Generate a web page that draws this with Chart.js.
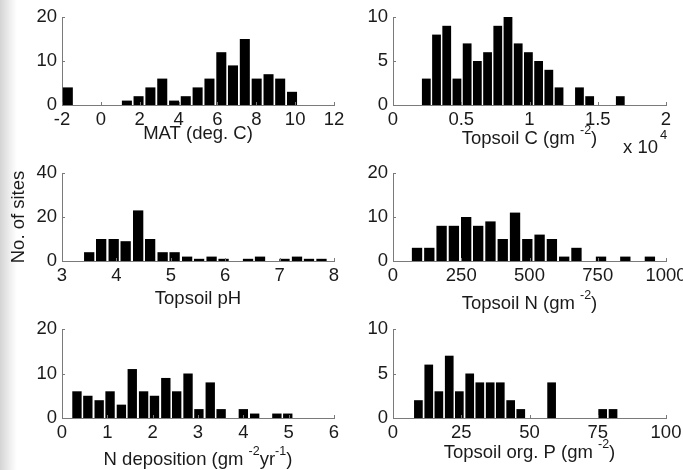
<!DOCTYPE html>
<html>
<head>
<meta charset="utf-8">
<script src="https://cdn.jsdelivr.net/npm/chart.js@4/dist/chart.umd.min.js"></script>
<style>
html,body{margin:0;padding:0;width:683px;height:470px;overflow:hidden;}
body{position:relative;background:linear-gradient(to right,#d4d4d4 0px,#e4e4e4 6px,#f4f4f4 12px,#ffffff 17px);}
canvas{position:absolute;}
</style>
</head>
<body>
<canvas id="cMAT"></canvas>
<canvas id="cC"></canvas>
<canvas id="cPH"></canvas>
<canvas id="cN"></canvas>
<canvas id="cNDEP"></canvas>
<canvas id="cP"></canvas>
<script>
// ---- data (bin centres and counts) ----
const matBins   = [-1.70,-1.09,-0.49,0.12,0.73,1.34,1.94,2.55,3.16,3.77,4.37,4.98,5.59,6.20,6.80,7.41,8.02,8.63,9.23,9.84];
const matCounts = [4,0,0,0,0,1,2,4,6,1,2,4,6,12,9,15,6,7,6,3];

const cBins   = [2440,3188,3936,4684,5432,6180,6928,7676,8424,9172,9920,10668,11416,12164,12912,13660,14408,15156,15904,16652];
const cCounts = [3,8,9,3,7,5,6,9,10,7,6,5,4,2,0,2,1,0,0,1];

const phBins   = [3.50,3.72,3.95,4.17,4.40,4.62,4.85,5.07,5.30,5.52,5.75,5.97,6.19,6.42,6.64,6.87,7.09,7.32,7.54,7.77];
const phCounts = [4,10,10,9,23,10,4,4,2,1,2,1,0,1,2,0,1,2,1,1];

const nBins   = [88,133,178,223,268,312,357,402,447,492,537,582,627,672,717,762,806,851,896,941];
const nCounts = [3,3,8,8,10,8,9,5,11,5,6,5,1,3,0,1,0,1,0,1];

const ndepBins   = [0.33,0.57,0.82,1.06,1.31,1.55,1.80,2.04,2.29,2.53,2.78,3.02,3.27,3.51,3.76,4.00,4.25,4.49,4.74,4.98];
const ndepCounts = [6,5,4,6,3,11,6,5,9,6,10,2,8,2,0,2,1,0,1,1];

const pBins   = [9.3,13.1,16.8,20.6,24.3,28.1,31.8,35.6,39.3,43.1,46.8,50.6,54.3,58.1,61.8,65.6,69.3,73.1,76.8,80.6];
const pCounts = [2,6,3,7,3,5,4,4,4,2,1,0,0,4,0,0,0,0,1,1];

// axis titles: [text, isSuperscript]
const matTitle  = [['MAT (deg. C)', 0]];
const cTitle    = [['Topsoil C (gm ', 0], ['-2', 1], [')', 0]];
const phTitle   = [['Topsoil pH', 0]];
const nTitle    = [['Topsoil N (gm ', 0], ['-2', 1], [')', 0]];
const ndepTitle = [['N deposition (gm ', 0], ['-2', 1], ['yr', 0], ['-1', 1], [')', 0]];
const pTitle    = [['Topsoil org. P (gm ', 0], ['-2', 1], [')', 0]];
const yTitle = 'No. of sites';
const cExponentBase = 'x 10';
const cExponentPower = '4';

// ---- styling / layout ----
const FONT = "'Liberation Sans', Arial, Helvetica, sans-serif";
const FS = 18.5, SUP = 12.5;
const TEXT = '#1a1a1a';
const AXIS = '#7a7a7a';
Chart.defaults.font.family = FONT;
Chart.defaults.font.size = FS;
Chart.defaults.color = TEXT;

const innerTicks = {
  id: 'innerTicks',
  afterDraw(chart) {
    const {ctx, chartArea: a, scales: {x, y}} = chart;
    ctx.save();
    ctx.strokeStyle = AXIS;
    ctx.lineWidth = 1;
    ctx.beginPath();
    x.ticks.forEach(t => {
      const px = Math.round(x.getPixelForValue(t.value)) + 0.5;
      ctx.moveTo(px, a.bottom); ctx.lineTo(px, a.bottom - 3);
    });
    y.ticks.forEach(t => {
      const py = Math.round(y.getPixelForValue(t.value)) + 0.5;
      ctx.moveTo(a.left, py); ctx.lineTo(a.left + 3, py);
    });
    ctx.stroke();
    ctx.restore();
  }
};

const richTitle = {
  id: 'richTitle',
  afterDraw(chart, args, opts) {
    if (!opts || !opts.parts) return;
    const {ctx, chartArea: a} = chart;
    ctx.save();
    ctx.fillStyle = TEXT;
    ctx.textBaseline = 'alphabetic';
    ctx.textAlign = 'left';
    let total = 0;
    opts.parts.forEach(([t, s]) => {
      ctx.font = (s ? SUP : FS) + 'px ' + FONT;
      total += ctx.measureText(t).width;
    });
    let x = (a.left + a.right) / 2 - total / 2;
    const y = a.bottom + opts.dy;
    opts.parts.forEach(([t, s]) => {
      ctx.font = (s ? SUP : FS) + 'px ' + FONT;
      ctx.fillText(t, x, s ? y - 10 : y);
      x += ctx.measureText(t).width;
    });
    ctx.restore();
  }
};

const exponentLabel = {
  id: 'exponentLabel',
  afterDraw(chart, args, opts) {
    if (!opts || !opts.base) return;
    const {ctx, chartArea: a} = chart;
    ctx.save();
    ctx.fillStyle = TEXT;
    ctx.textBaseline = 'alphabetic';
    ctx.textAlign = 'right';
    ctx.font = FS + 'px ' + FONT;
    ctx.fillText(opts.base, a.right - 8, a.bottom + 48);
    ctx.textAlign = 'left';
    ctx.font = '13px ' + FONT;
    ctx.fillText(opts.power, a.right - 6, a.bottom + 34);
    ctx.restore();
  }
};

const panels = [
  {id:'cMAT', left:0,   top:0,   w:360, padTop:17, area:88, xH:39, padBottom:0,  yW:62, dy:34,
   bins:matBins, counts:matCounts, xmin:-2, xmax:12, xstep:2, ymax:20, ystep:10, title:matTitle},
  {id:'cC',   left:340, top:0,   w:360, padTop:17, area:88, xH:44, padBottom:14, yW:53, dy:38.5,
   bins:cBins, counts:cCounts, xmin:0, xmax:20000, xstep:5000, ymax:10, ystep:5, title:cTitle,
   fmt: v => String(v / 10000), exponent:{base:cExponentBase, power:cExponentPower}},
  {id:'cPH',  left:0,   top:150, w:360, padTop:23, area:88, xH:48, padBottom:0,  yW:62, dy:42.6,
   bins:phBins, counts:phCounts, xmin:3, xmax:8, xstep:1, ymax:40, ystep:20, title:phTitle, ytitle:yTitle},
  {id:'cN',   left:340, top:150, w:360, padTop:23, area:88, xH:53, padBottom:0,  yW:53, dy:47.6,
   bins:nBins, counts:nCounts, xmin:0, xmax:1000, xstep:250, ymax:20, ystep:10, title:nTitle},
  {id:'cNDEP',left:0,   top:300, w:360, padTop:29, area:89, xH:52, padBottom:0,  yW:62, dy:46.6,
   bins:ndepBins, counts:ndepCounts, xmin:0, xmax:6, xstep:1, ymax:20, ystep:10, title:ndepTitle},
  {id:'cP',   left:340, top:300, w:360, padTop:29, area:89, xH:45, padBottom:0,  yW:53, dy:40,
   bins:pBins, counts:pCounts, xmin:0, xmax:100, xstep:25, ymax:10, ystep:5, title:pTitle}
];

panels.forEach(p => {
  const cv = document.getElementById(p.id);
  const h = p.padTop + p.area + p.xH + p.padBottom;
  const plotRight = p.left === 0 ? 334 : 666;
  cv.width = p.w; cv.height = h;
  cv.style.left = p.left + 'px'; cv.style.top = p.top + 'px';
  cv.style.width = p.w + 'px'; cv.style.height = h + 'px';
  new Chart(cv, {
    type: 'bar',
    data: {
      datasets: [{
        data: p.bins.map((b, i) => ({x: b, y: p.counts[i]})),
        backgroundColor: '#000000',
        borderWidth: 0,
        barPercentage: 0.86,
        categoryPercentage: 1
      }]
    },
    options: {
      responsive: false,
      animation: false,
      events: [],
      devicePixelRatio: 1,
      layout: {padding: {top: p.padTop, right: (p.left + p.w) - plotRight, bottom: p.padBottom, left: 0}},
      plugins: {
        legend: {display: false},
        tooltip: {enabled: false},
        richTitle: {parts: p.title, dy: p.dy},
        exponentLabel: p.exponent || {}
      },
      scales: {
        x: {
          type: 'linear', min: p.xmin, max: p.xmax, offset: false,
          grid: {display: false, drawTicks: false, offset: false},
          border: {display: true, color: AXIS, width: 1},
          ticks: {stepSize: p.xstep, padding: 4, color: TEXT, maxRotation: 0, autoSkip: false,
                  callback: p.fmt || (v => String(v))},
          title: {display: false},
          afterFit: s => { s.height = p.xH; }
        },
        y: {
          type: 'linear', min: 0, max: p.ymax,
          grid: {display: false, drawTicks: false},
          border: {display: true, color: AXIS, width: 1},
          ticks: {stepSize: p.ystep, padding: 5, color: TEXT, callback: v => String(v)},
          title: {display: !!p.ytitle, text: p.ytitle || '', padding: {top: 8, bottom: 0}, color: TEXT},
          afterFit: s => { s.width = p.yW; }
        }
      }
    },
    plugins: [innerTicks, richTitle, exponentLabel]
  });
});
</script>
</body>
</html>
